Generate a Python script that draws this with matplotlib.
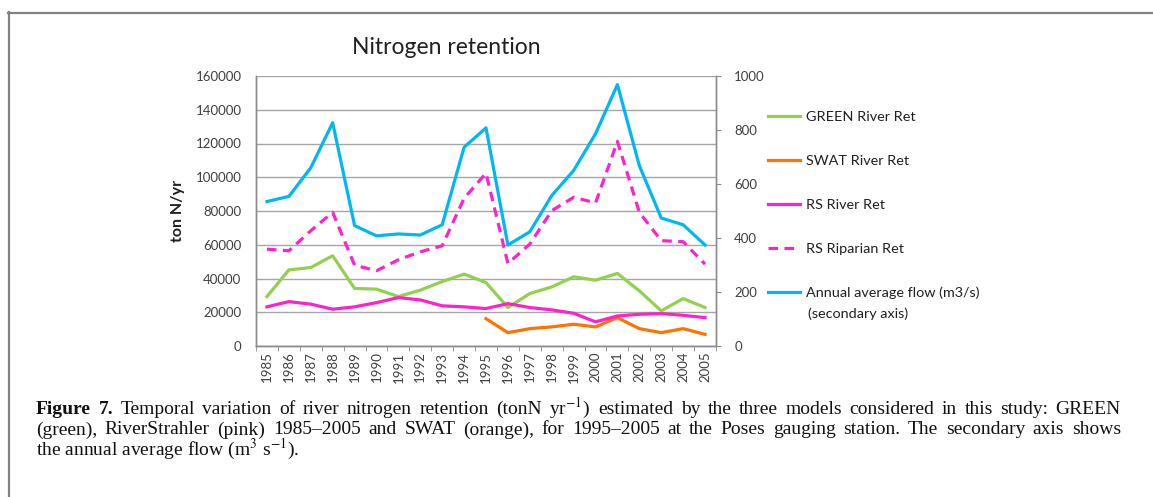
import numpy as np
import matplotlib
matplotlib.use("Agg")
from matplotlib import pyplot as plt
from matplotlib.lines import Line2D

# years on the category axis
years = [str(y) for y in range(1985, 2006)]

# nitrogen retention, ton N/yr
green_ret = [29300, 45100, 46500, 53500, 34100, 33700, 29300, 33100, 38200, 42600, 37600,
             22800, 31100, 35000, 41000, 39000, 43000, 32700, 20800, 28100, 22800]
swat_years = years[10:]
swat_ret = [16200, 7900, 10300, 11300, 12900, 11300, 16800, 10300, 7900, 10300, 6900]
rs_river = [23200, 26300, 24800, 21800, 23200, 25700, 28700, 27300, 23800, 23200, 22200,
            25100, 22800, 21400, 19400, 14300, 17800, 18800, 19200, 18200, 16800]
rs_riparian = [57400, 56400, 68300, 79200, 47900, 44600, 51100, 55800, 59400, 87500, 102400,
               48900, 60400, 80200, 88100, 84800, 121200, 79200, 62400, 61800, 48500]
# annual average flow, m3/s (secondary axis)
flow = [535, 554, 660, 827, 446, 408, 415, 411, 449, 736, 808,
        374, 423, 557, 650, 786, 968, 668, 474, 449, 374]

GREEN = "#92D050"
ORANGE = "#FF7300"
PINK = "#FF22CC"
BLUE = "#00B8F0"
GRID = "#A6A6A6"
TXT = "#404040"
SANS = ["Lato", "DejaVu Sans"]

plt.rcParams["mathtext.fontset"] = "stix"

W, H = 1153, 497
fig = plt.figure(figsize=(W / 100, H / 100), dpi=100)
ax = fig.add_axes([256 / W, 1 - 346 / H, 460 / W, 270 / H])
ax2 = ax.twinx()

x = np.arange(len(years))
xs = x[10:]
lw = 2.3
dash = (0, (3, 2))
ax.plot(x, green_ret, color=GREEN, lw=lw, zorder=3)
ax.plot(xs, swat_ret, color=ORANGE, lw=lw, zorder=3)
ax.plot(x, rs_river, color=PINK, lw=lw, zorder=3)
ax.plot(x, rs_riparian, color=PINK, lw=lw, ls=dash, zorder=3)
ax2.plot(x, flow, color=BLUE, lw=lw, zorder=3)

ax.set_xlim(-0.5, len(years) - 0.5)
ax.set_ylim(0, 160000)
ax.set_yticks(range(0, 160001, 20000))
ax2.set_ylim(0, 1000)
ax2.set_yticks(range(0, 1001, 200))

ax.yaxis.grid(True, color=GRID, lw=1.0)
ax.set_axisbelow(True)
ax.spines["top"].set_visible(False)
ax2.spines["top"].set_visible(False)
for a in (ax, ax2):
    for s in ["left", "right", "bottom"]:
        a.spines[s].set_color("#8C8C8C")
        a.spines[s].set_linewidth(1.0)

ax.set_xticks(x)
ax.set_xticklabels(years, rotation=90, fontsize=9.5, color=TXT, family=SANS)
ax.set_xticks(np.arange(-0.5, len(years)), minor=True)
ax.tick_params(axis="x", which="major", length=0, pad=4)
ax.tick_params(axis="x", which="minor", length=3.6, color="#8C8C8C")
ax.tick_params(axis="y", length=0, pad=10.5, labelsize=9.5, labelcolor=TXT)
ax2.tick_params(axis="y", length=3.6, color="#8C8C8C", pad=9.5, labelsize=9.5, labelcolor=TXT)
for lab in ax.get_yticklabels() + ax2.get_yticklabels():
    lab.set_family(SANS)

ax.set_ylabel("ton N/yr", fontsize=11.5, fontweight="bold", family=SANS, color="#202020")
ax.yaxis.set_label_coords((185 - 256) / 460, 0.5)
fig.text(446 / W, 1 - 48 / H, "Nitrogen retention", fontsize=16.5, family=SANS,
         color="#202020", ha="center", va="center")

handles = [Line2D([], [], color=GREEN, lw=lw),
           Line2D([], [], color=ORANGE, lw=lw),
           Line2D([], [], color=PINK, lw=lw),
           Line2D([], [], color=PINK, lw=lw, ls=dash),
           Line2D([], [], color=BLUE, lw=lw)]
labels = ["GREEN River Ret", "SWAT River Ret", "RS River Ret", "RS Riparian Ret",
          "Annual average flow (m3/s)"]
fs_leg = 10.4
leg = fig.legend(handles, labels, loc="upper left", bbox_to_anchor=(768 / W, 1 - 111 / H),
                 frameon=False, prop={"family": SANS, "size": fs_leg}, labelspacing=2.2,
                 handlelength=2.2, handletextpad=0.45, borderaxespad=0, borderpad=0)
for t in leg.get_texts():
    t.set_color("#202020")
fig.text(808 / W, 1 - 314 / H, "(secondary axis)", fontsize=fs_leg, family=SANS,
         color="#202020", va="center")

# frame of the figure box
fig.add_artist(Line2D([8 / W, 1], [1 - 12.5 / H, 1 - 12.5 / H], transform=fig.transFigure,
                      color="#808080", lw=1.6))
fig.add_artist(Line2D([8.5 / W, 8.5 / W], [0, 1 - 12 / H], transform=fig.transFigure,
                      color="#808080", lw=1.6))

# caption, first two lines justified like the journal layout
SERIF = ["Liberation Serif", "DejaVu Serif"]
cs = 14.0
CAP = "#111111"


def justified(words, y_px, x0=36, x1=1121):
    arts = []
    for w in words:
        wt = "bold" if w in ("Figure", "7.") else "normal"
        arts.append(fig.text(0, 1 - y_px / H, w, fontsize=cs, family=SERIF, fontweight=wt,
                             va="baseline", color=CAP))
    fig.canvas.draw()
    r = fig.canvas.get_renderer()
    widths = [a.get_window_extent(r).width for a in arts]
    gap = (x1 - x0 - sum(widths)) / (len(arts) - 1)
    xp = x0
    for a, wd in zip(arts, widths):
        a.set_x(xp / W)
        xp += wd + gap


line1 = (r"Figure 7. Temporal variation of river nitrogen retention (tonN yr$^{-1}$) estimated "
         r"by the three models considered in this study: GREEN").split(" ")
line2 = ("(green), RiverStrahler (pink) 1985\u20132005 and SWAT (orange), for 1995\u20132005 at "
         "the Poses gauging station. The secondary axis shows").split(" ")
justified(line1, 414)
justified(line2, 434.5)
fig.text(36 / W, 1 - 455 / H, r"the annual average flow (m$^{3}$ s$^{-1}$).",
         fontsize=cs, family=SERIF, va="baseline", color=CAP)

fig.savefig("out.png", dpi=100)
